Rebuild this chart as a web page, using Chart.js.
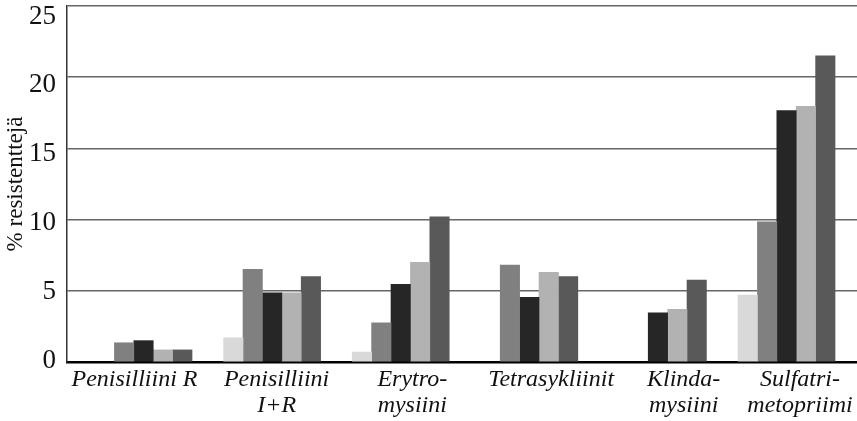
<!DOCTYPE html>
<html>
<head>
<meta charset="utf-8">
<script src="https://cdn.jsdelivr.net/npm/chart.js@4/dist/chart.umd.min.js"></script>
<style>
  html, body { margin: 0; padding: 0; background: #fff; }
  #wrap { width: 857px; height: 421px; }
</style>
</head>
<body>
<div id="wrap"><canvas id="chart"></canvas></div>
<script>
// Categories (multi-line labels as printed)
const categories = [
    ['Penisilliini R'],
    ['Penisilliini', 'I+R'],
    ['Erytro-', 'mysiini'],
    ['Tetrasykliinit'],
    ['Klinda-', 'mysiini'],
    ['Sulfatri-', 'metopriimi']
];
// labels are not exactly centred under their groups in the original (category units)
const labelShift = [-0.07, 0.035, 0.09, 0.17, 0.2, 0.105];

// Five series per category, % resistant (null = no bar)
const series1 = [null, 1.7, 0.7, null, null, 4.7];
const series2 = [1.35, 6.5, 2.75, 6.8, null, 9.85];
const series3 = [1.5, 4.85, 5.45, 4.55, 3.45, 17.65];
const series4 = [0.85, 4.85, 7.0, 6.3, 3.7, 17.95];
const series5 = [0.85, 6.0, 10.2, 6.0, 5.75, 21.5];

const yTicks = [0, 5, 10, 15, 20, 25];

const seriesColors = ['#d9d9d9', '#7f807f', '#262626', '#b2b2b2', '#595959'];

const toPoints = arr => arr.map((v, i) => ({ x: i, y: v }));

// fixed thickness so the shifted tick labels don't change the bar width
const datasets = [series1, series2, series3, series4, series5].map((s, k) => ({
    data: toPoints(s),
    backgroundColor: seriesColors[k],
    borderWidth: 0,
    barThickness: 19.4
}));

const serif = 'Liberation Serif, Times New Roman, serif';

// no extra room for half-labels at the ends of the axes
const noPad = s => { s.paddingTop = 0; s.paddingBottom = 0; s.paddingLeft = 0; s.paddingRight = 0; };

new Chart(document.getElementById('chart').getContext('2d'), {
    type: 'bar',
    data: { datasets: datasets },
    options: {
        responsive: true,
        maintainAspectRatio: false,
        animation: false,
        layout: { padding: { top: 6, right: 0, left: 0, bottom: 0 } },
        plugins: {
            legend: { display: false },
            tooltip: { enabled: false }
        },
        scales: {
            x: {
                type: 'linear',
                min: -0.595,
                max: 5.548,
                bounds: 'data',
                offset: false,
                afterBuildTicks: s => {
                    s.ticks = categories.map((c, i) => ({ value: i + labelShift[i] }));
                },
                afterFit: s => { s.height = 59; noPad(s); },
                grid: { display: false, drawTicks: false },
                border: { display: true, color: '#000', width: 2.5 },
                ticks: {
                    autoSkip: false,
                    maxRotation: 0,
                    padding: 4,
                    color: '#111',
                    font: { family: serif, size: 24, style: 'italic', lineHeight: 1.1 },
                    callback: (v, i) => categories[i]
                }
            },
            y: {
                min: 0,
                max: 25,
                weight: 0,
                afterBuildTicks: s => { s.ticks = yTicks.map(v => ({ value: v })); },
                afterFit: s => { s.width = 0; noPad(s); },
                grid: { color: '#666', lineWidth: 1.6, drawTicks: false },
                border: { display: true, color: '#333', width: 1.5 },
                ticks: { display: false }
            },
            // labels are spaced slightly tighter than the grid in the original
            yLab: {
                type: 'linear',
                position: 'left',
                weight: 1,
                min: -0.07,
                max: 25.76,
                bounds: 'data',
                afterBuildTicks: s => { s.ticks = yTicks.map(v => ({ value: v })); },
                afterFit: s => { s.width = 67; noPad(s); },
                grid: { display: false, drawTicks: false },
                border: { display: false },
                ticks: {
                    padding: 11,
                    color: '#111',
                    font: { family: serif, size: 27 }
                },
                title: {
                    display: true,
                    text: '% resistenttejä',
                    color: '#111',
                    padding: { top: 2, bottom: 2 },
                    font: { family: serif, size: 23 }
                }
            }
        }
    }
});
</script>
</body>
</html>
